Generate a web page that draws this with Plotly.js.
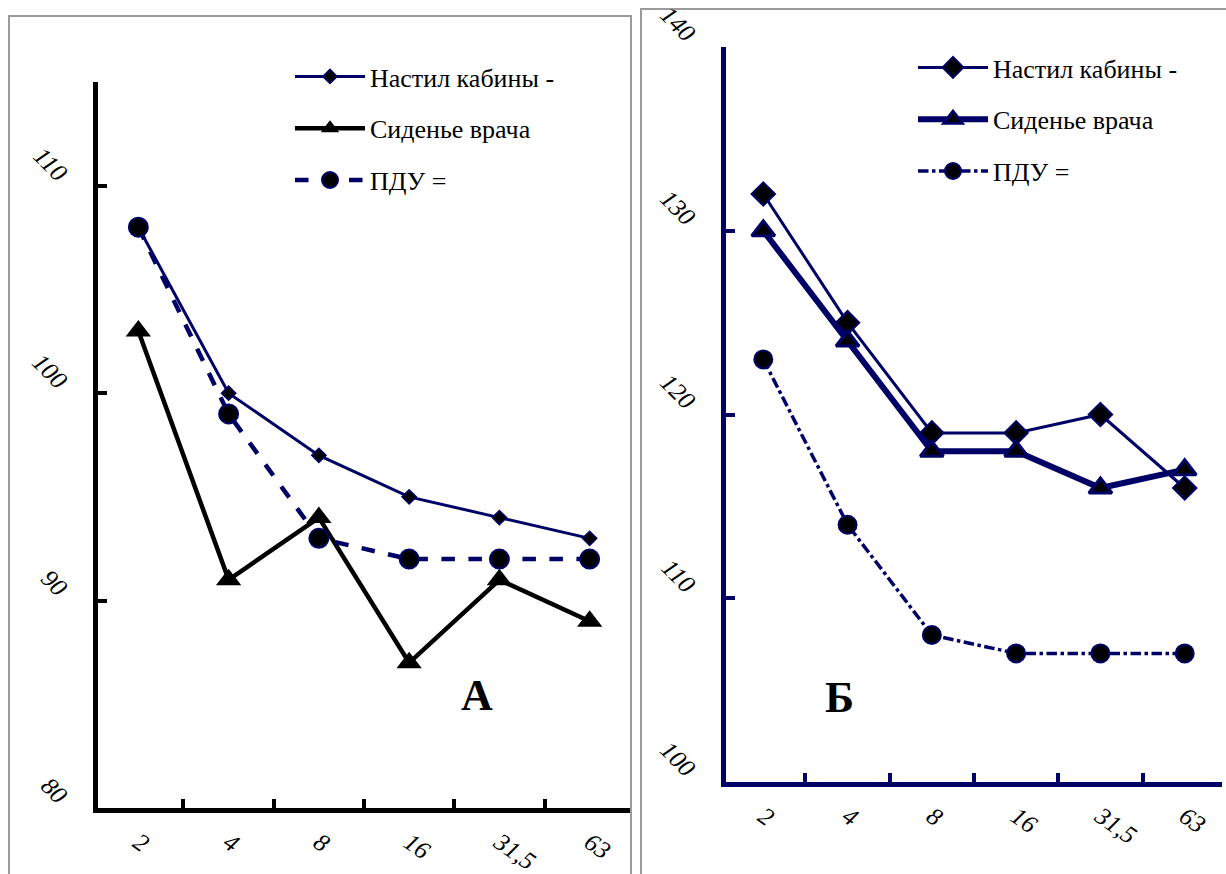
<!DOCTYPE html>
<html>
<head>
<meta charset="utf-8">
<script src="https://cdn.plot.ly/plotly-3.0.1.min.js"></script>
<style>html,body{margin:0;padding:0;background:#fff}#chart{width:1226px;height:874px}</style>
</head>
<body>
<div id="chart"></div>
<script>
// Frequencies (Hz), octave bands
const categories = ["2", "4", "8", "16", "31,5", "63"];
const seriesNames = ["Настил кабины -", "Сиденье врача", "ПДУ ="];

// Panel A values (dB)
const nastilA = [108, 100, 97, 95, 94, 93];
const sidenieA = [103, 91, 94, 87, 91, 89];
const pduA = [108, 99, 93, 92, 92, 92];

// Panel Б values (dB)
const nastilB = [132, 125, 119, 119, 120, 116];
const sidenieB = [130, 124, 118, 118, 116, 117];
const pduB = [123, 114, 108, 107, 107, 107];

const yTicksA = [80, 90, 100, 110];
const yTicksB = [100, 110, 120, 130, 140];

const NAVY = "#000066";
const FONT = "Liberation Serif";

const traces = [
  {x: categories, y: nastilA, name: seriesNames[0], type: "scatter", mode: "lines+markers",
   xaxis: "x", yaxis: "y", legend: "legend", legendgroup: "a1",
   line: {color: NAVY, width: 3},
   marker: {symbol: "diamond", size: 11, color: "#000", line: {color: NAVY, width: 1.5}}},
  {x: categories, y: sidenieA, name: seriesNames[1], type: "scatter", mode: "lines+markers",
   xaxis: "x", yaxis: "y", legend: "legend", legendgroup: "a2",
   line: {color: "#000", width: 4.5},
   marker: {symbol: "triangle-up", size: 22, color: "#000", line: {color: "#000", width: 0}}},
  {x: categories, y: pduA, name: seriesNames[2], type: "scatter", mode: "lines+markers",
   xaxis: "x", yaxis: "y", legend: "legend", legendgroup: "a3",
   line: {color: NAVY, width: 4.5, dash: "dash"},
   marker: {symbol: "circle", size: 19, color: "#000", line: {color: NAVY, width: 2}}},

  {x: categories, y: nastilB, name: seriesNames[0], type: "scatter", mode: "lines+markers",
   xaxis: "x2", yaxis: "y2", legend: "legend2", legendgroup: "b1",
   line: {color: NAVY, width: 3},
   marker: {symbol: "diamond", size: 18, color: "#000", line: {color: NAVY, width: 2}}},
  {x: categories, y: sidenieB, name: seriesNames[1], type: "scatter", mode: "lines+markers",
   xaxis: "x2", yaxis: "y2", legend: "legend2", legendgroup: "b2",
   line: {color: NAVY, width: 6},
   marker: {symbol: "triangle-up", size: 20, color: "#000", line: {color: NAVY, width: 3}}},
  {x: categories, y: pduB, name: seriesNames[2], type: "scatter", mode: "lines+markers",
   xaxis: "x2", yaxis: "y2", legend: "legend2", legendgroup: "b3",
   line: {color: NAVY, width: 3.5, dash: "dashdot"},
   marker: {symbol: "circle", size: 18, color: "#000", line: {color: NAVY, width: 2}}}
];

const W = 1226, H = 874;
const px = v => v / W;
const py = v => 1 - v / H;

const mkTick = () => ({family: FONT, size: 25, color: "#000", style: "italic"});

const layout = {
  width: W, height: H,
  margin: {l: 0, r: 0, t: 0, b: 0},
  paper_bgcolor: "#fff", plot_bgcolor: "rgba(0,0,0,0)",
  showlegend: true,
  xaxis: {
    domain: [px(98), px(630)], anchor: "y", type: "category",
    showgrid: false, zeroline: false, showline: true, linecolor: "#000", linewidth: 5,
    ticks: "inside", tickson: "boundaries", ticklen: 9, tickwidth: 4, tickcolor: "#000",
    tickangle: 35, tickfont: mkTick(), ticklabelstandoff: 5, fixedrange: true
  },
  yaxis: {
    domain: [py(808), py(82)], anchor: "x", range: [80, 115],
    tickvals: yTicksA, ticktext: yTicksA.map(String),
    showgrid: false, zeroline: false, showline: true, linecolor: "#000", linewidth: 5,
    ticks: "inside", ticklen: 9, tickwidth: 4, tickcolor: "#000",
    tickangle: 45, tickfont: mkTick(), ticklabelstandoff: 22, ticklabelshift: -8,
    ticklabeloverflow: "allow", fixedrange: true
  },
  xaxis2: {
    domain: [px(726), px(1222)], anchor: "y2", type: "category",
    showgrid: false, zeroline: false, showline: true, linecolor: NAVY, linewidth: 5,
    ticks: "inside", tickson: "boundaries", ticklen: 9, tickwidth: 4, tickcolor: NAVY,
    tickangle: 35, tickfont: mkTick(), ticklabelstandoff: 5, fixedrange: true
  },
  yaxis2: {
    domain: [py(782), py(47)], anchor: "x2", range: [100, 140],
    tickvals: yTicksB, ticktext: yTicksB.map(String),
    showgrid: false, zeroline: false, showline: true, linecolor: NAVY, linewidth: 5,
    ticks: "inside", ticklen: 9, tickwidth: 4, tickcolor: NAVY,
    tickangle: 45, tickfont: mkTick(), ticklabelstandoff: 22, ticklabelshift: -9,
    ticklabeloverflow: "allow", fixedrange: true
  },
  legend: {
    x: px(290), y: py(53), xanchor: "left", yanchor: "top",
    bgcolor: "rgba(0,0,0,0)", borderwidth: 0, itemwidth: 70,
    font: {family: FONT, size: 26, color: "#000"}, tracegroupgap: 15, traceorder: "grouped"
  },
  legend2: {
    x: px(913), y: py(44), xanchor: "left", yanchor: "top",
    bgcolor: "rgba(0,0,0,0)", borderwidth: 0, itemwidth: 70,
    font: {family: FONT, size: 26, color: "#000"}, tracegroupgap: 15, traceorder: "grouped"
  },
  annotations: [
    {text: "<b>А</b>", xref: "x", yref: "y", x: 3.75, y: 85.4, showarrow: false,
     font: {family: FONT, size: 44, color: "#000"}},
    {text: "<b>Б</b>", xref: "x2", yref: "y2", x: 0.9, y: 104.6, showarrow: false,
     font: {family: FONT, size: 44, color: "#000"}}
  ],
  shapes: [
    {type: "rect", xref: "paper", yref: "paper", x0: px(9), x1: px(631), y0: -0.05, y1: py(16),
     line: {color: "#9a9a9a", width: 2}, fillcolor: "rgba(0,0,0,0)", layer: "below"},
    {type: "rect", xref: "paper", yref: "paper", x0: px(641), x1: 1.05, y0: -0.05, y1: py(9),
     line: {color: "#9a9a9a", width: 2}, fillcolor: "rgba(0,0,0,0)", layer: "below"}
  ]
};

Plotly.newPlot("chart", traces, layout, {displayModeBar: false, staticPlot: true});
</script>
</body>
</html>
